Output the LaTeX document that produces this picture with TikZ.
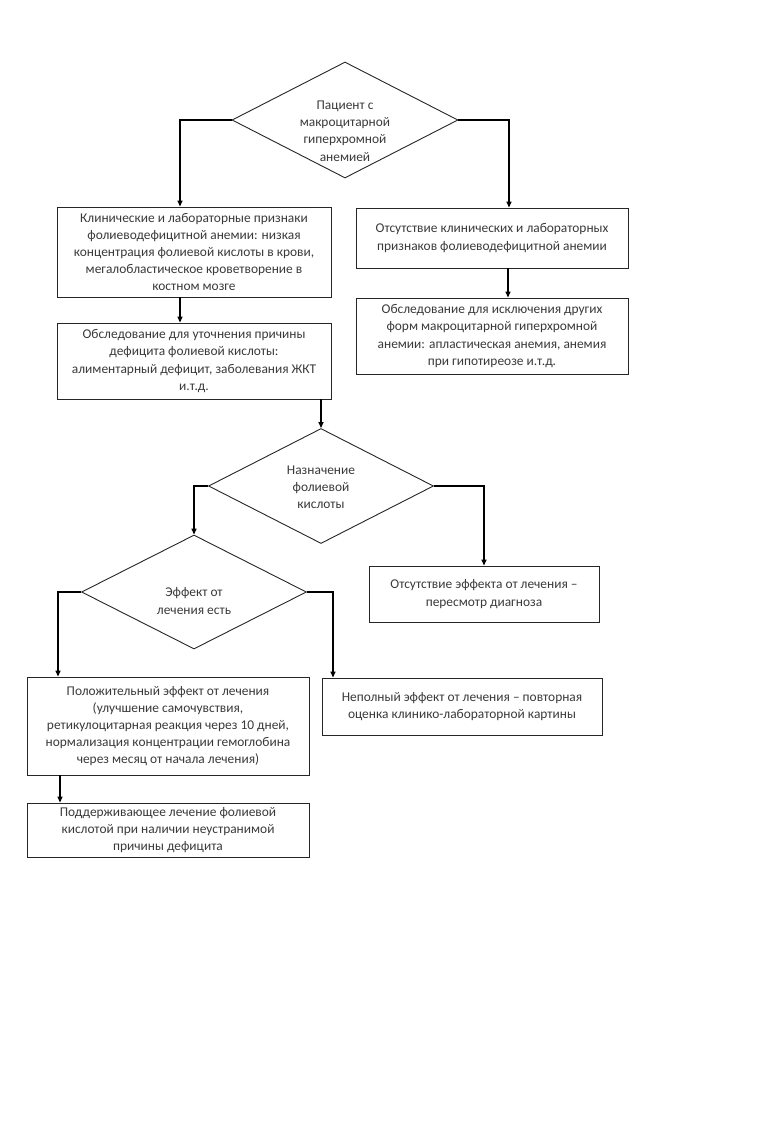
\documentclass[tikz,border=0pt]{standalone}
\usepackage{fontspec}
\setmainfont{Carlito}
\usetikzlibrary{shapes.geometric,arrows.meta}
\definecolor{txt}{HTML}{3A3A3A}
\begin{document}
\begin{tikzpicture}[x=1pt,y=-1pt,
  lbl/.style={align=center,inner sep=0pt,text=txt,font=\fontsize{13.4}{17.2}\selectfont},
  box/.style={draw=black!85,line width=0.9pt,rectangle,lbl},
  dia/.style={draw=black!85,line width=0.9pt,diamond,inner sep=0pt},
  arr/.style={line width=1.4pt,-{Triangle[length=6pt,width=5pt]}}]
\useasboundingbox[fill=white] (0,0) rectangle (770,1122);
\node[dia,minimum width=226pt,minimum height=116pt] (d1) at (345,120) {};
\node[lbl] (d1t) at (345,131) {Пациент с\\макроцитарной\\гиперхромной\\анемией};
\node[box,minimum width=274pt,minimum height=90pt] (b1) at (194,252)
  {Клинические и лабораторные признаки\\фолиеводефицитной анемии: низкая\\концентрация фолиевой кислоты в крови,\\мегалобластическое кроветворение в\\костном мозге};
\node[box,minimum width=274pt,minimum height=76pt] (b2) at (194,361)
  {Обследование для уточнения причины\\дефицита фолиевой кислоты:\\алиментарный дефицит, заболевания ЖКТ\\и.т.д.};
\node[box,minimum width=272pt,minimum height=60pt] (b3) at (492,238)
  {Отсутствие клинических и лабораторных\\признаков фолиеводефицитной анемии};
\node[box,minimum width=272pt,minimum height=76pt] (b4) at (492,336)
  {Обследование для исключения других\\форм макроцитарной гиперхромной\\анемии: апластическая анемия, анемия\\при гипотиреозе и.т.д.};
\node[dia,minimum width=225pt,minimum height=115pt] (d2) at (321,486) {};
\node[lbl] (d2t) at (321,487) {Назначение\\фолиевой\\кислоты};
\node[dia,minimum width=225pt,minimum height=114pt] (d3) at (194,592) {};
\node[lbl] (d3t) at (194,601) {Эффект от\\лечения есть};
\node[box,minimum width=230pt,minimum height=56pt] (b5) at (484,594)
  {Отсутствие эффекта от лечения –\\пересмотр диагноза};
\node[box,minimum width=282pt,minimum height=98pt] (b6) at (168,726)
  {Положительный эффект от лечения\\(улучшение самочувствия,\\ретикулоцитарная реакция через 10 дней,\\нормализация концентрации гемоглобина\\через месяц от начала лечения)};
\node[box,minimum width=280pt,minimum height=57pt] (b7) at (462,706.5)
  {Неполный эффект от лечения – повторная\\оценка клинико-лабораторной картины};
\node[box,minimum width=282pt,minimum height=54pt] (b8) at (168,830)
  {Поддерживающее лечение фолиевой\\кислотой при наличии неустранимой\\причины дефицита};
\draw[arr] (d1.west) -| ([xshift=-14pt]b1.north);
\draw[arr] (d1.east) -| ([xshift=17pt]b3.north);
\draw[arr] ([xshift=-14pt]b1.south) -- ([xshift=-14pt]b2.north);
\draw[arr] ([xshift=16pt]b3.south) -- ([xshift=16pt]b4.north);
\draw[arr] ([xshift=127pt]b2.south) -- (d2.north);
\draw[arr] (d2.west) -| (d3.north);
\draw[arr] (d2.east) -| (b5.north);
\draw[arr] (d3.west) -| ([xshift=-110pt]b6.north);
\draw[arr] (d3.east) -| ([xshift=-129pt]b7.north);
\draw[arr] ([xshift=-108pt]b6.south) -- ([xshift=-108pt]b8.north);
\end{tikzpicture}
\end{document}
